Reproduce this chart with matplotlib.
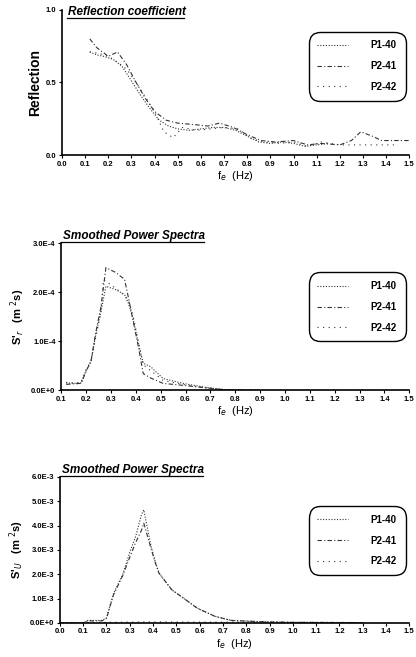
import numpy as np
import matplotlib
matplotlib.use("Agg")
import matplotlib.pyplot as plt

plt.rcParams['font.family'] = ['Liberation Sans Narrow', 'Liberation Sans', 'DejaVu Sans']

series_names = ["P1-40", "P2-41", "P2-42"]

# panel 1 - reflection coefficient
r_x1 = [0.12, 0.15, 0.18, 0.22, 0.26, 0.30, 0.34, 0.38, 0.42, 0.46, 0.50, 0.55, 0.60, 0.65, 0.70, 0.75, 0.80, 0.85, 0.90, 0.95, 1.00, 1.05, 1.10, 1.15]
r_y1 = [0.71, 0.69, 0.68, 0.66, 0.61, 0.51, 0.41, 0.32, 0.24, 0.20, 0.18, 0.17, 0.18, 0.19, 0.19, 0.17, 0.13, 0.09, 0.08, 0.09, 0.08, 0.06, 0.07, 0.08]
r_x2 = [0.12, 0.15, 0.20, 0.24, 0.28, 0.32, 0.36, 0.40, 0.45, 0.50, 0.57, 0.63, 0.68, 0.74, 0.80, 0.86, 0.92, 1.00, 1.06, 1.12, 1.20, 1.25, 1.29, 1.34, 1.38, 1.44, 1.50]
r_y2 = [0.80, 0.74, 0.68, 0.71, 0.62, 0.50, 0.39, 0.30, 0.24, 0.22, 0.21, 0.20, 0.22, 0.19, 0.14, 0.10, 0.09, 0.10, 0.07, 0.08, 0.07, 0.10, 0.16, 0.13, 0.10, 0.10, 0.10]
r_x3 = [0.12, 0.16, 0.20, 0.24, 0.28, 0.32, 0.36, 0.40, 0.44, 0.48, 0.52, 0.58, 0.64, 0.70, 0.76, 0.82, 0.88, 0.94, 1.00, 1.06, 1.12, 1.20, 1.26, 1.32, 1.38, 1.45]
r_y3 = [0.71, 0.70, 0.68, 0.64, 0.59, 0.50, 0.40, 0.30, 0.16, 0.12, 0.19, 0.17, 0.18, 0.19, 0.18, 0.11, 0.09, 0.08, 0.09, 0.06, 0.09, 0.07, 0.07, 0.07, 0.07, 0.07]

# panel 2 - smoothed spectra S'r (1e-4)
s_x1 = [0.12, 0.15, 0.18, 0.20, 0.22, 0.24, 0.26, 0.28, 0.32, 0.355, 0.37, 0.39, 0.41, 0.43, 0.46, 0.51, 0.59, 0.68, 0.76, 0.85, 0.90]
s_y1 = [0.15, 0.14, 0.15, 0.40, 0.58, 1.16, 1.60, 2.12, 2.05, 1.95, 1.78, 1.44, 0.96, 0.55, 0.48, 0.24, 0.14, 0.06, 0.01, 0.00, 0.00]
s_x2 = [0.12, 0.15, 0.18, 0.20, 0.22, 0.24, 0.26, 0.28, 0.32, 0.355, 0.37, 0.39, 0.41, 0.43, 0.46, 0.51, 0.59, 0.68, 0.76, 0.85, 0.90]
s_y2 = [0.12, 0.13, 0.14, 0.38, 0.60, 1.20, 1.70, 2.50, 2.40, 2.26, 1.90, 1.40, 0.90, 0.34, 0.25, 0.14, 0.10, 0.05, 0.01, 0.00, 0.00]
s_x3 = [0.12, 0.15, 0.18, 0.20, 0.22, 0.24, 0.26, 0.27, 0.30, 0.34, 0.37, 0.39, 0.41, 0.43, 0.46, 0.51, 0.59, 0.68, 0.76, 0.85, 0.90]
s_y3 = [0.16, 0.15, 0.16, 0.42, 0.60, 1.10, 1.60, 2.26, 2.15, 2.00, 1.85, 1.50, 1.00, 0.52, 0.40, 0.20, 0.12, 0.05, 0.01, 0.00, 0.00]

# panel 3 - smoothed spectra S'U (1e-3)
u_x1 = [0.00, 0.10, 0.12, 0.18, 0.20, 0.21, 0.23, 0.27, 0.30, 0.325, 0.35, 0.36, 0.39, 0.41, 0.425, 0.48, 0.54, 0.59, 0.665, 0.735, 0.88, 1.0, 1.3]
u_y1 = [0.00, 0.00, 0.10, 0.10, 0.20, 0.55, 1.20, 2.00, 2.90, 3.55, 4.45, 4.65, 3.20, 2.50, 2.05, 1.36, 0.95, 0.60, 0.27, 0.10, 0.04, 0.02, 0.01]
u_x2 = [0.00, 0.10, 0.12, 0.18, 0.20, 0.21, 0.23, 0.27, 0.30, 0.325, 0.35, 0.36, 0.39, 0.41, 0.425, 0.48, 0.54, 0.59, 0.665, 0.735, 0.88, 1.0, 1.3]
u_y2 = [0.00, 0.00, 0.08, 0.08, 0.18, 0.50, 1.15, 1.95, 2.70, 3.30, 3.80, 4.10, 3.10, 2.45, 2.05, 1.36, 0.95, 0.60, 0.27, 0.10, 0.04, 0.02, 0.01]
u_x3 = [0.00, 0.20, 0.40, 0.60, 0.80, 1.00, 1.30]
u_y3 = [0.00, 0.02, 0.04, 0.03, 0.03, 0.02, 0.01]

styles = [dict(ls=(0, (1, 1.5)), lw=0.8), dict(ls=(0, (4, 2, 1, 2)), lw=0.8), dict(ls=(0, (1, 4)), lw=0.8)]

fig = plt.figure(figsize=(4.16, 6.57), dpi=100)
ax1 = fig.add_axes([0.149, 0.764, 0.835, 0.221])
ax2 = fig.add_axes([0.147, 0.406, 0.837, 0.224])
ax3 = fig.add_axes([0.144, 0.052, 0.840, 0.222])

def style_axes(ax, title, ylabel, title_x, title_y, title_va, uline, leg_top):
    for s in ["top", "right"]:
        ax.spines[s].set_visible(False)
    ax.spines["left"].set_linewidth(1.2)
    ax.spines["bottom"].set_linewidth(1.2)
    ax.tick_params(labelsize=5.5, length=2, width=0.8, pad=2)
    for lab in ax.get_xticklabels() + ax.get_yticklabels():
        lab.set_fontweight("bold")
    ax.set_xlabel("f$_e$  (Hz)", fontsize=8, labelpad=1)
    ax.set_ylabel(ylabel, fontsize=8, fontweight="bold", labelpad=3)
    ax.text(title_x, title_y, title, transform=ax.transAxes, fontsize=8.5, fontweight="bold",
            style="italic", va=title_va, ha="left", family="Liberation Sans")
    ax.plot(uline[:2], [uline[2], uline[2]], transform=ax.transAxes, color="black", lw=0.9, clip_on=False)
    leg = ax.legend(loc="upper right", bbox_to_anchor=(0.998, leg_top), fontsize=7, handlelength=3.2,
                    handletextpad=2.3, labelspacing=1.1, borderpad=0.7, fancybox=True, framealpha=1)
    leg.get_frame().set_edgecolor("black")
    leg.get_frame().set_linewidth(1.0)
    leg.get_frame().set_boxstyle("round", pad=0.2, rounding_size=1.2)
    for t in leg.get_texts():
        t.set_fontweight("bold")

for xs, ys, name, st in zip([r_x1, r_x2, r_x3], [r_y1, r_y2, r_y3], series_names, styles):
    ax1.plot(xs, ys, color="#333333", label=name, **st)
ax1.set_xlim(0, 1.5)
ax1.set_ylim(0, 1.0)
ax1.set_xticks(np.arange(0, 1.51, 0.1))
ax1.set_xticklabels(["%.1f" % v for v in np.arange(0, 1.51, 0.1)])
ax1.set_yticks([0, 0.5, 1.0])
ax1.set_yticklabels(["0.0", "0.5", "1.0"])
style_axes(ax1, "Reflection coefficient", "Reflection", 0.017, 0.985, "center", (0.015, 0.35, 0.945), 0.87)
ax1.yaxis.label.set_fontsize(10)

for xs, ys, name, st in zip([s_x1, s_x2, s_x3], [s_y1, s_y2, s_y3], series_names, styles):
    ax2.plot(xs, np.array(ys) * 1e-4, color="#333333", label=name, **st)
ax2.set_xlim(0.1, 1.5)
ax2.set_ylim(0, 3e-4)
ax2.set_xticks(np.arange(0.1, 1.51, 0.1))
ax2.set_xticklabels(["%.1f" % v for v in np.arange(0.1, 1.51, 0.1)])
ax2.set_yticks([0, 1e-4, 2e-4, 3e-4])
ax2.set_yticklabels(["0.0E+0", "1.0E-4", "2.0E-4", "3.0E-4"])
style_axes(ax2, "Smoothed Power Spectra", "S'$_r$   (m $^2$s)", 0.005, 1.01, "bottom", (0.0, 0.41, 1.005), 0.82)

for xs, ys, name, st in zip([u_x1, u_x2, u_x3], [u_y1, u_y2, u_y3], series_names, styles):
    ax3.plot(xs, np.array(ys) * 1e-3, color="#333333", label=name, **st)
ax3.set_xlim(0, 1.5)
ax3.set_ylim(0, 6e-3)
ax3.set_xticks(np.arange(0, 1.51, 0.1))
ax3.set_xticklabels(["%.1f" % v for v in np.arange(0, 1.51, 0.1)])
ax3.set_yticks(np.arange(0, 6.1e-3, 1e-3))
ax3.set_yticklabels(["0.0E+0", "1.0E-3", "2.0E-3", "3.0E-3", "4.0E-3", "5.0E-3", "6.0E-3"])
style_axes(ax3, "Smoothed Power Spectra", "S'$_U$   (m $^2$s)", 0.005, 1.01, "bottom", (0.0, 0.41, 1.005), 0.82)

fig.savefig("out.png", dpi=100)
